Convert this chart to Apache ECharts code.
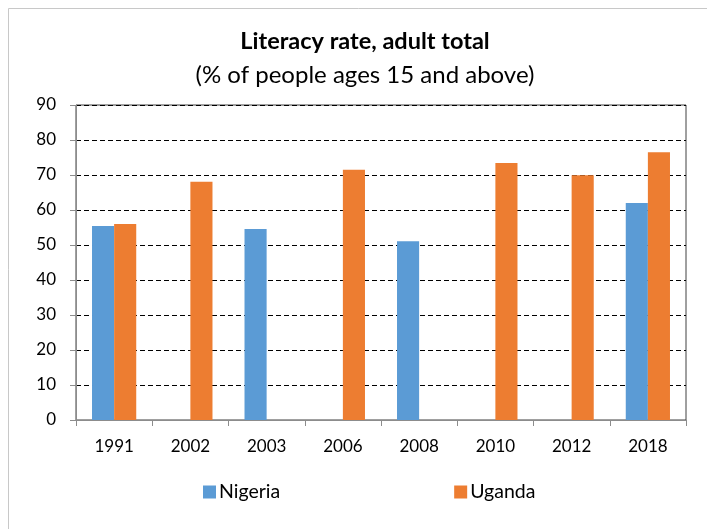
<!DOCTYPE html>
<html><head><meta charset="utf-8">
<script src="https://cdn.jsdelivr.net/npm/echarts@6/dist/echarts.min.js"></script>
<style>html,body{margin:0;padding:0;background:#fff}#c{width:707px;height:529px}</style>
</head><body><div id="c"></div>
<script>
const years = ['1991','2002','2003','2006','2008','2010','2012','2018'];
const nigeria = [55.4, null, 54.6, null, 51.1, null, null, 62.0];
const uganda = [56.0, 68.1, null, 71.5, null, 73.4, 69.9, 76.5];
const yTicks = [0,10,20,30,40,50,60,70,80,90];
const FONT = 'Lato';
const chart = echarts.init(document.getElementById('c'));
chart.setOption({
  animation:false,
  backgroundColor:'#fff',
  graphic:[{type:'rect',shape:{x:8.5,y:8.5,width:720,height:540},style:{fill:'none',stroke:'#c8c8c8',lineWidth:1},silent:true}],
  title:{text:'Literacy rate, adult total',subtext:'(% of people ages 15 and above)',left:360,textAlign:'center',top:24,itemGap:10,
    textStyle:{fontFamily:FONT,fontSize:23.5,fontWeight:'bold',color:'#000'},
    subtextStyle:{fontFamily:FONT,fontSize:24,color:'#000'}},
  legend:{data:['Nigeria','Uganda'],left:198,top:477,itemWidth:13,itemHeight:13,itemGap:174,icon:'rect',
    textStyle:{fontFamily:FONT,fontSize:19.5,color:'#000',padding:[0,0,0,-2]}},
  grid:{left:76,right:21,top:105,bottom:109,show:true,borderColor:'#404040',borderWidth:1,containLabel:false},
  xAxis:{type:'category',data:years,
    axisLine:{lineStyle:{color:'#8c8c8c'}},
    axisTick:{show:true,length:6,lineStyle:{color:'#8c8c8c'}},
    axisLabel:{fontFamily:FONT,fontSize:17,color:'#000',margin:18}},
  yAxis:{type:'value',min:0,max:90,interval:10,
    axisLine:{show:true,lineStyle:{color:'#8c8c8c'}},
    axisTick:{show:true,length:6,lineStyle:{color:'#8c8c8c'}},
    axisLabel:{fontFamily:FONT,fontSize:17,color:'#000',margin:20,
      formatter:v=>yTicks.includes(v)?String(v):''},
    splitLine:{show:true,lineStyle:{color:'#000',type:[5,3],width:1}}},
  series:[
    {name:'Nigeria',type:'bar',data:nigeria,barGap:'0%',barCategoryGap:'42%',itemStyle:{color:'#5B9BD5'}},
    {name:'Uganda',type:'bar',data:uganda,barGap:'0%',barCategoryGap:'42%',itemStyle:{color:'#ED7D31'}}
  ]
});
</script></body></html>
